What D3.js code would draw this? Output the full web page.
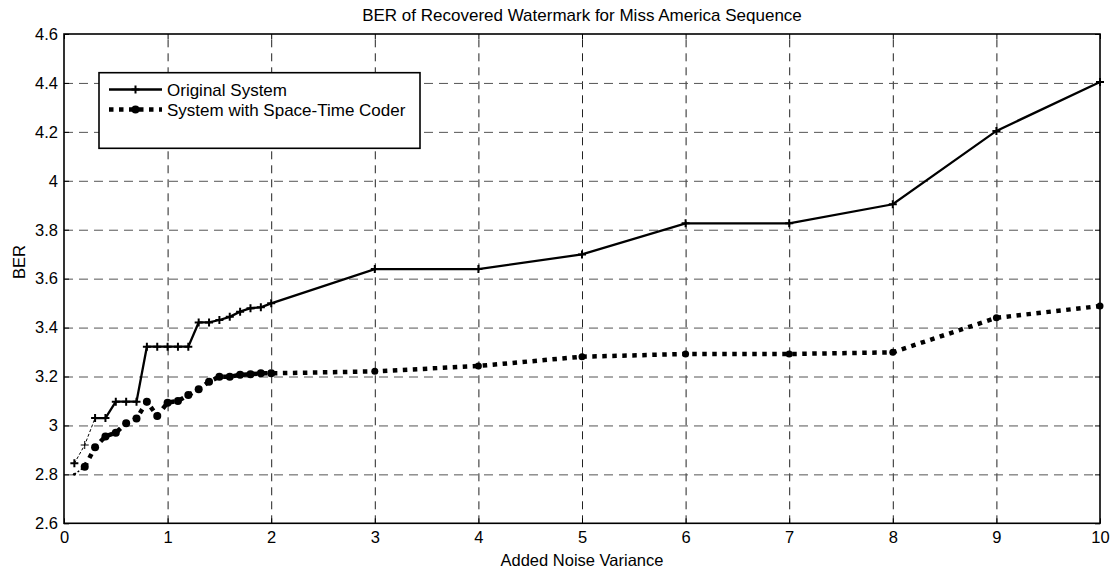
<!DOCTYPE html>
<html>
<head>
<meta charset="utf-8">
<script src="https://cdn.jsdelivr.net/npm/d3@7"></script>
<style>
  body { margin:0; background:#fff; }
  svg text { font-family:"Liberation Sans", Arial, sans-serif; fill:#000; }
</style>
</head>
<body>
<div id="grafico"></div>
<script>
// data
const noiseVar = [0.1,0.2,0.3,0.4,0.5,0.6,0.7,0.8,0.9,1.0,1.1,1.2,1.3,1.4,1.5,1.6,1.7,1.8,1.9,2.0,3,4,5,6,7,8,9,10];
const berOriginal = [2.845,2.92,3.03,3.03,3.097,3.097,3.097,3.322,3.322,3.322,3.322,3.322,3.421,3.421,3.431,3.444,3.465,3.479,3.483,3.499,3.639,3.639,3.699,3.826,3.826,3.904,4.204,4.404];
const berSpaceTime = [2.80,2.831,2.911,2.955,2.970,3.009,3.028,3.097,3.039,3.093,3.100,3.124,3.148,3.179,3.199,3.199,3.207,3.209,3.213,3.213,3.221,3.243,3.281,3.292,3.292,3.299,3.440,3.488];
const xTicks = [0,1,2,3,4,5,6,7,8,9,10];
const yTicks = [2.6,2.8,3,3.2,3.4,3.6,3.8,4,4.2,4.4,4.6];
const seriesNames = ["Original System","System with Space-Time Coder"];
const chartTitle = "BER of Recovered Watermark for Miss America Sequence";
const xTitle = "Added Noise Variance";
const yTitle = "BER";

const W = 1115, H = 572;
const margin = {top:34, right:15, bottom:48.7, left:64};
const width = W - margin.left - margin.right;
const height = H - margin.top - margin.bottom;
const FS = 16.5;

const svg = d3.select("#grafico").append("svg")
  .attr("width", W).attr("height", H);
const g = svg.append("g").attr("transform", `translate(${margin.left},${margin.top})`);

const x = d3.scaleLinear().domain([0,10]).range([0,width]);
const y = d3.scaleLinear().domain([2.6,4.6]).range([height,0]);

// grid
g.append("g")
  .attr("transform", `translate(0,${height})`)
  .call(d3.axisBottom(x).tickValues(xTicks.slice(1,-1)).tickSize(-height).tickFormat(""))
  .call(a => a.select(".domain").remove())
  .selectAll("line").attr("stroke","#222").attr("stroke-dasharray","8,6");
g.append("g")
  .call(d3.axisLeft(y).tickValues(yTicks.slice(1,-1)).tickSize(-width).tickFormat(""))
  .call(a => a.select(".domain").remove())
  .selectAll("line").attr("stroke","#555").attr("stroke-dasharray","9,6");

// axes with inward ticks
const styleAxis = a => {
  a.select(".domain").remove();
  a.selectAll("line").attr("stroke","#000");
  a.selectAll("text").style("font-size", FS+"px").attr("fill","#000");
};
g.append("g").attr("transform", `translate(0,${height})`)
  .call(d3.axisBottom(x).tickValues(xTicks).tickSize(-5).tickPadding(8).tickFormat(d3.format("~g")))
  .call(styleAxis);
g.append("g")
  .call(d3.axisTop(x).tickValues(xTicks).tickSize(-5).tickFormat(""))
  .call(styleAxis);
g.append("g")
  .call(d3.axisLeft(y).tickValues(yTicks).tickSize(-5).tickPadding(6).tickFormat(d3.format("~g")))
  .call(styleAxis);
g.append("g").attr("transform", `translate(${width},0)`)
  .call(d3.axisRight(y).tickValues(yTicks).tickSize(-5).tickFormat(""))
  .call(styleAxis);

g.append("rect").attr("width", width).attr("height", height)
  .attr("fill","none").attr("stroke","#000").attr("stroke-width",1.6);

const line = d3.line().x(d => x(d[0])).y(d => y(d[1]));
const orig = noiseVar.map((v,i) => [v, berOriginal[i]]);
const stc = noiseVar.map((v,i) => [v, berSpaceTime[i]]);

// faint first segments
g.append("path").datum(orig.slice(0,3)).attr("d", line)
  .attr("fill","none").attr("stroke","#000").attr("stroke-width",1).attr("stroke-dasharray","3,2");
g.append("path").datum(stc.slice(0,2)).attr("d", line)
  .attr("fill","none").attr("stroke","#000").attr("stroke-width",1.5).attr("stroke-dasharray","2,2");

g.append("path").datum(orig.slice(2)).attr("d", line)
  .attr("fill","none").attr("stroke","#000").attr("stroke-width",2.3);
g.append("path").datum(stc.slice(1)).attr("d", line)
  .attr("fill","none").attr("stroke","#000").attr("stroke-width",4.5).attr("stroke-dasharray","4.5,5.5");

const plusPath = s => `M${-s},0H${s}M0,${-s}V${s}`;
g.selectAll(".mk-orig").data(orig).enter().append("path")
  .attr("class","mk-orig")
  .attr("transform", d => `translate(${x(d[0])},${y(d[1])})`)
  .attr("d", plusPath(4))
  .attr("stroke","#000").attr("stroke-width", (d,i) => i === 1 ? 1 : 2);
g.selectAll(".mk-stc").data(stc).enter().append("circle")
  .attr("class","mk-stc")
  .attr("cx", d => x(d[0])).attr("cy", d => y(d[1]))
  .attr("r", (d,i) => i === 0 ? 1.5 : (d[0] <= 2 ? 4 : 3.5)).attr("fill","#000");

// legend
const lg = svg.append("g");
lg.append("rect").attr("x",99).attr("y",72.7).attr("width",321).attr("height",75.6)
  .attr("fill","#fff").attr("stroke","#000").attr("stroke-width",1.6);
lg.append("line").attr("x1",109).attr("x2",162).attr("y1",89.5).attr("y2",89.5)
  .attr("stroke","#000").attr("stroke-width",2.3);
lg.append("path").attr("transform","translate(135.5,89.5)").attr("d",plusPath(4))
  .attr("stroke","#000").attr("stroke-width",2);
lg.append("line").attr("x1",109).attr("x2",162).attr("y1",109.5).attr("y2",109.5)
  .attr("stroke","#000").attr("stroke-width",4.5).attr("stroke-dasharray","4.5,5.5");
lg.append("circle").attr("cx",135.5).attr("cy",109.5).attr("r",4).attr("fill","#000");
lg.selectAll("text.lt").data(seriesNames).enter().append("text")
  .attr("class","lt")
  .attr("x",167).attr("y",(d,i) => 89.5 + i*20).attr("dy","0.36em")
  .style("font-size","17px").text(d => d);

// titles
svg.append("text").attr("x", margin.left + width/2).attr("y", 21)
  .attr("text-anchor","middle").style("font-size","17px").text(chartTitle);
svg.append("text").attr("x", margin.left + width/2).attr("y", 566)
  .attr("text-anchor","middle").style("font-size",FS+"px").text(xTitle);
svg.append("text").attr("transform","translate(25,262) rotate(-90)")
  .attr("text-anchor","middle").style("font-size",FS+"px").text(yTitle);
</script>
</body>
</html>
